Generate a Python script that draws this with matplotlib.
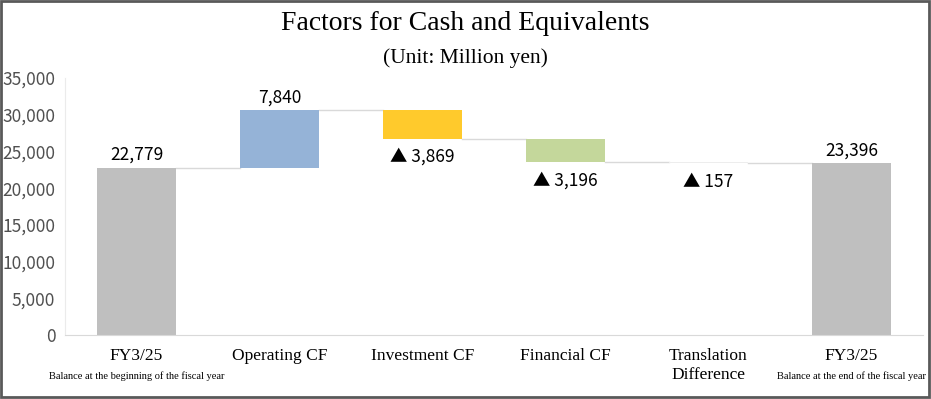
import matplotlib.pyplot as plt
import matplotlib.transforms as mtransforms
from matplotlib.patches import Rectangle

# waterfall data (million yen)
categories = ["FY3/25", "Operating CF", "Investment CF", "Financial CF",
              "Translation\nDifference", "FY3/25"]
sub_labels = ["Balance at the beginning of the fiscal year", "", "", "", "",
              "Balance at the end of the fiscal year"]
values = [22779, 7840, -3869, -3196, -157, 23396]
is_total = [True, False, False, False, False, True]
colors = ["#BFBFBF", "#95B3D7", "#FFCA2C", "#C4D79B", "#EDEDED", "#BFBFBF"]

label_font = ["Noto Sans CJK JP", "DejaVu Sans"]
serif_font = ["Liberation Serif", "DejaVu Serif"]

fig = plt.figure(figsize=(9.31, 3.99), dpi=100)
ax = fig.add_axes([65 / 931, 64 / 399, 858 / 931, 257 / 399])

# compute bottoms and running totals
bottoms = []
tops = []
running = 0
for v, tot in zip(values, is_total):
    if tot:
        bottoms.append(0)
        tops.append(v)
        running = v
    else:
        new = running + v
        bottoms.append(min(running, new))
        tops.append(max(running, new))
        running = new

heights = [t - b for t, b in zip(tops, bottoms)]
x = list(range(len(values)))
w = 0.55
ax.bar(x, heights, bottom=bottoms, width=w, color=colors, zorder=2)

# connector lines
running = 0
levels = []
for v, tot in zip(values, is_total):
    running = v if tot else running + v
    levels.append(running)
for i in range(len(values) - 1):
    ax.plot([i + w / 2, i + 1 - w / 2], [levels[i], levels[i]],
            color="#D9D9D9", lw=1, zorder=1)

# data labels
for i, v in enumerate(values):
    if v >= 0:
        ax.text(i, tops[i] + 500, f"{v:,}", ha="center", va="bottom",
                fontsize=12.5, family=label_font)
    else:
        ax.text(i, bottoms[i] - 1300, f"▲ {abs(v):,}", ha="center", va="top",
                fontsize=12.5, family=label_font)

ax.set_xlim(-0.5, len(values) - 0.5)
ax.set_ylim(0, 35000)
ax.set_yticks(range(0, 35001, 5000))
ax.set_yticklabels([f"{t:,}" for t in range(0, 35001, 5000)],
                   fontsize=12.5, family=label_font, color="#505050")
ax.tick_params(axis="y", length=0, pad=7)
ax.set_xticks([])

for s in ["top", "right"]:
    ax.spines[s].set_visible(False)
ax.spines["left"].set_color("#EBEBEB")
ax.spines["bottom"].set_color("#D9D9D9")

# category labels
trans = mtransforms.blended_transform_factory(ax.transData, ax.transAxes)
for i, (c, s) in enumerate(zip(categories, sub_labels)):
    ax.text(i, -0.05, c, transform=trans, ha="center", va="top",
            fontsize=12.5, family=serif_font, linespacing=1.25)
    if s:
        ax.text(i, -0.14, s, transform=trans, ha="center", va="top",
                fontsize=7.5, family=serif_font)

fig.text(0.5, 1 - 24 / 399, "Factors for Cash and Equivalents", ha="center",
         va="center", fontsize=20, family=serif_font)
fig.text(0.5, 1 - 58 / 399, "(Unit: Million yen)", ha="center",
         va="center", fontsize=15.5, family=serif_font)

# outer frame
fig.patches.append(Rectangle((0.001, 0.004), 0.997, 0.994, transform=fig.transFigure,
                             fill=False, edgecolor="#595959", lw=2))

fig.savefig("out.png", dpi=100)
